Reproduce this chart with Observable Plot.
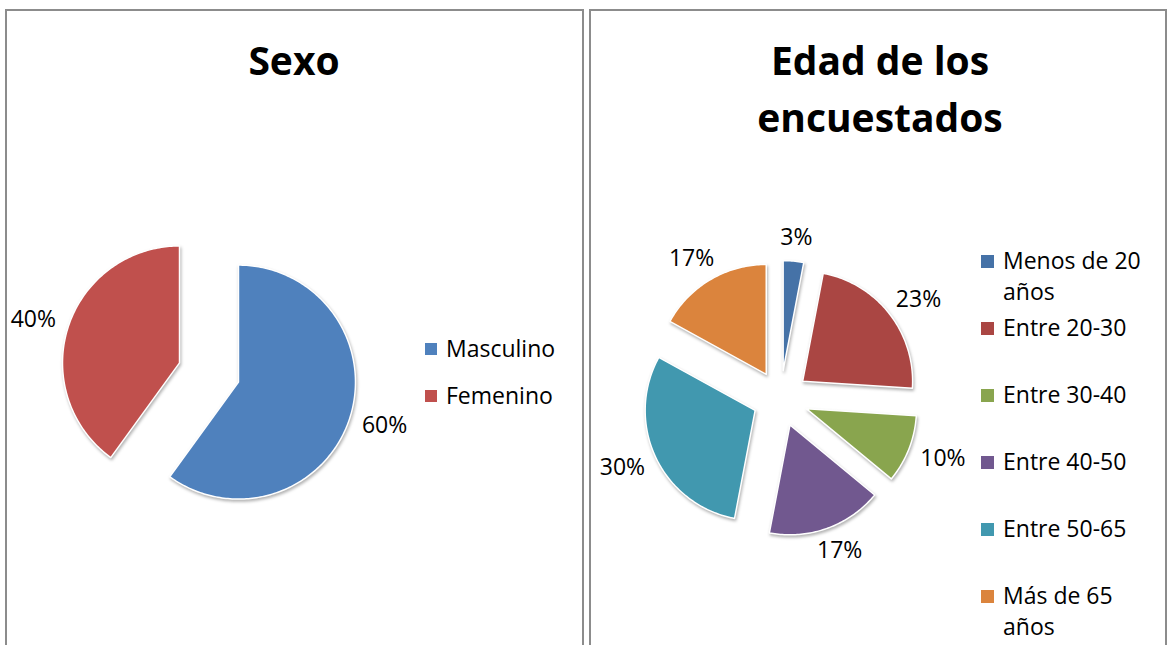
<!DOCTYPE html>
<html><head><meta charset="utf-8">
<script src="https://cdn.jsdelivr.net/npm/d3@7"></script>
<script src="https://cdn.jsdelivr.net/npm/@observablehq/plot@0.6"></script>
<style>
body{margin:0;background:#fff;font-family:"Open Sans",sans-serif;}
#page{position:relative;width:1168px;height:645px;overflow:hidden;background:#fff;}
.panel{position:absolute;top:9px;height:720px;border:2px solid #8c8c8c;box-sizing:border-box;}
.title{position:absolute;font-weight:700;font-size:39px;text-align:center;line-height:57px;color:#000;}
.leg{position:absolute;font-size:23px;line-height:31px;color:#000;}
.sw{position:absolute;}
.chart{position:absolute;}
.chart svg g[aria-label="line"] path{filter:drop-shadow(1px 2px 1.5px rgba(0,0,0,0.3));}
</style></head><body><div id="page"></div>
<script>
// ---- data ----
const sexTitle = "Sexo";
const sexCategories = ["Masculino", "Femenino"];
const sexValues = [60, 40];
const sexColors = ["#4F81BD", "#C0504D"];

const ageTitle = "Edad de los encuestados";
const ageCategories = ["Menos de 20 años", "Entre 20-30", "Entre 30-40", "Entre 40-50", "Entre 50-65", "Más de 65 años"];
const ageValues = [3, 23, 10, 17, 30, 17];
const ageColors = ["#4572A7", "#AA4643", "#89A54E", "#71588F", "#4198AF", "#DB843D"];

// ---- layout ----
const page = document.getElementById("page");
const canvas = document.createElement("canvas");
const ctx = canvas.getContext("2d");
ctx.font = "23px 'Open Sans'";

function el(cls, style, text) {
  const d = document.createElement("div");
  d.className = cls;
  Object.assign(d.style, style);
  if (text != null) d.textContent = text;
  page.appendChild(d);
  return d;
}

function pie(cfg) {
  const total = d3.sum(cfg.values);
  const toRad = Math.PI / 180;
  let acc = 0;
  const slices = cfg.values.map((v, i) => {
    const a0 = acc / total * 360, a1 = (acc + v) / total * 360;
    acc += v;
    const mid = (a0 + a1) / 2 * toRad;
    const ex = cfg.explode / cfg.r;
    const ox = Math.sin(mid) * ex, oy = Math.cos(mid) * ex;
    const n = Math.max(2, Math.ceil(a1 - a0) + 1);
    const pts = [{x: ox, y: oy}];
    for (let k = 0; k <= n; k++) {
      const a = (a0 + (a1 - a0) * k / n) * toRad;
      pts.push({x: ox + Math.sin(a), y: oy + Math.cos(a)});
    }
    const label = v + "%";
    const w = ctx.measureText(label).width, h = 20;
    const dx = Math.sin(mid), dy = Math.cos(mid);
    const R = (cfg.r + cfg.explode + cfg.gap) / cfg.r;
    const lx = R * dx + dx * w / 2 / cfg.r;
    const ly = R * dy + dy * h / 2 / cfg.r;
    return {pts, color: cfg.colors[i], label, lx, ly};
  });
  const cx = cfg.cx - cfg.left, cy = cfg.cy - cfg.top;
  const chart = Plot.plot({
    width: cfg.width, height: cfg.height, margin: 0,
    x: {domain: [-cx / cfg.r, (cfg.width - cx) / cfg.r], axis: null},
    y: {domain: [-(cfg.height - cy) / cfg.r, cy / cfg.r], axis: null},
    style: {background: "transparent", fontFamily: "'Open Sans', sans-serif", overflow: "visible"},
    marks: [
      ...slices.map(s => Plot.line(s.pts, {x: "x", y: "y", fill: s.color, stroke: "#ffffff", strokeWidth: 1.5, curve: "linear-closed"})),
      Plot.text(slices, {x: "lx", y: "ly", text: "label", fontSize: 23, fill: "#000", textAnchor: "middle", lineAnchor: "middle"})
    ]
  });
  const holder = el("chart", {left: cfg.left + "px", top: cfg.top + "px"});
  holder.appendChild(chart);
}

function legend(cats, colors, cfg) {
  cats.forEach((c, i) => {
    const top = cfg.top + i * cfg.step;
    el("sw", {left: cfg.swLeft + "px", top: (top + 16 - cfg.sw / 2 + 0.5) + "px", width: cfg.sw + "px", height: cfg.sw + "px", background: colors[i]});
    el("leg", {left: cfg.textLeft + "px", top: top + "px", width: cfg.textWidth + "px"}, c);
  });
}

// panels
el("panel", {left: "5px", width: "579px"});
el("panel", {left: "589px", width: "578px"});

// titles
el("title", {left: "144px", top: "31px", width: "300px"}, sexTitle);
el("title", {left: "730px", top: "31px", width: "300px"}, ageTitle);

// pies
pie({values: sexValues, colors: sexColors, cx: 208.5, cy: 372, r: 117, explode: 31, gap: 14,
     left: 8, top: 150, width: 574, height: 495});
pie({values: ageValues, colors: ageColors, cx: 780, cy: 398, r: 110, explode: 28, gap: 14,
     left: 592, top: 150, width: 572, height: 495});

// legends
legend(sexCategories, sexColors, {top: 332.5, step: 47, swLeft: 425, sw: 12, textLeft: 446, textWidth: 130});
legend(ageCategories, ageColors, {top: 244.5, step: 67, swLeft: 981, sw: 13, textLeft: 1003, textWidth: 158});
</script></body></html>
